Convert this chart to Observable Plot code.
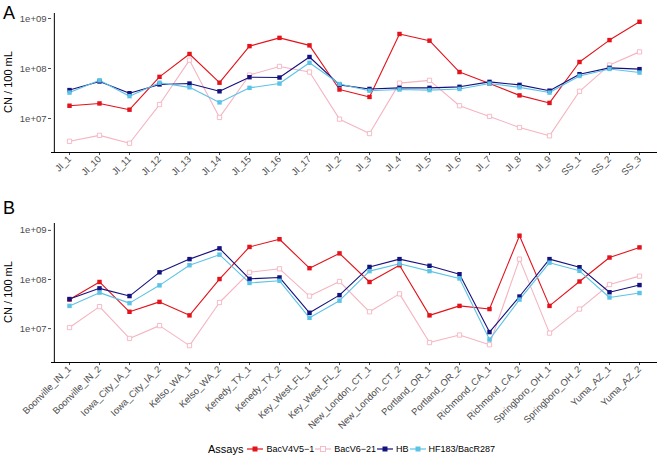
<!DOCTYPE html>
<html><head><meta charset="utf-8">
<script src="https://cdn.jsdelivr.net/npm/d3@7"></script>
<script src="https://cdn.jsdelivr.net/npm/@observablehq/plot@0.6"></script>
<style>
body{margin:0;background:#fff;font-family:"Liberation Sans",Arial,sans-serif;}
#wrap{position:relative;width:661px;height:465px;overflow:hidden;background:#fff;}
.panel{position:absolute;left:0;z-index:1;}
.tag{position:absolute;left:3px;font-size:18px;color:#000;line-height:1;z-index:2;}
.ylab{position:absolute;font-size:11px;color:#000;transform:translate(-50%,-50%) rotate(-90deg);white-space:nowrap;z-index:2;}
#legend{position:absolute;top:443px;left:208px;display:flex;align-items:center;font-size:9px;color:#000;z-index:2;}
#legend .ttl{font-size:11px;margin-right:3px;}
#legend .it{display:flex;align-items:center;}
#legend svg{margin:0 3px 0 1px;}
</style></head>
<body>
<div id="wrap">
  <div class="tag" style="top:4px;">A</div>
  <div class="tag" style="top:199px;">B</div>
  <div class="ylab" style="left:8px;top:82px;">CN / 100 mL</div>
  <div class="ylab" style="left:8px;top:292px;">CN / 100 mL</div>
  <div id="pA" class="panel" style="top:0px;"></div>
  <div id="pB" class="panel" style="top:210px;"></div>
  <div id="legend"></div>
</div>
<script>
const assays = ["BacV4V5\u22121", "BacV6\u221221", "HB", "HF183/BacR287"];
const colors = ["#E4121B", "#F5B4C1", "#14127E", "#5CC3E6"];

const sitesA = ["JI_1","JI_10","JI_11","JI_12","JI_13","JI_14","JI_15","JI_16","JI_17","JI_2","JI_3","JI_4","JI_5","JI_6","JI_7","JI_8","JI_9","SS_1","SS_2","SS_3"];
const a_BacV4V5 = [1.8e7,2.0e7,1.5e7,6.8e7,1.95e8,5.2e7,2.8e8,4.1e8,2.9e8,3.8e7,2.7e7,4.9e8,3.6e8,8.5e7,5.0e7,2.9e7,2.05e7,1.35e8,3.7e8,8.6e8];
const a_BacV6 = [3.5e6,4.6e6,3.2e6,1.9e7,1.47e8,1.05e7,7.4e7,1.1e8,8.5e7,9.7e6,5.0e6,5.1e7,5.8e7,1.8e7,1.1e7,6.6e6,4.5e6,3.5e7,1.17e8,2.15e8];
const a_HB = [3.7e7,5.5e7,3.2e7,4.8e7,5.0e7,3.5e7,6.7e7,6.6e7,1.7e8,4.7e7,3.9e7,4.1e7,4.1e7,4.3e7,5.4e7,4.7e7,3.6e7,7.7e7,1.03e8,9.7e7];
const a_HF183 = [3.3e7,5.8e7,2.8e7,5.2e7,4.2e7,2.1e7,4.1e7,5.0e7,1.3e8,4.9e7,3.6e7,3.8e7,3.7e7,3.9e7,5.0e7,4.2e7,3.3e7,7.1e7,9.8e7,8.3e7];

const sitesB = ["Boonville_IN_1","Boonville_IN_2","Iowa_City_IA_1","Iowa_City_IA_2","Kelso_WA_1","Kelso_WA_2","Kenedy_TX_1","Kenedy_TX_2","Key_West_FL_1","Key_West_FL_2","New_London_CT_1","New_London_CT_2","Portland_OR_1","Portland_OR_2","Richmond_CA_1","Richmond_CA_2","Springboro_OH_1","Springboro_OH_2","Yuma_AZ_1","Yuma_AZ_2"];
const b_BacV4V5 = [3.9e7,8.9e7,2.2e7,3.5e7,1.86e7,1.02e8,4.6e8,6.6e8,1.7e8,3.4e8,8.9e7,1.95e8,1.86e7,2.9e7,2.5e7,7.8e8,2.9e7,9.1e7,2.8e8,4.5e8];
const b_BacV6 = [1.05e7,2.8e7,6.3e6,1.15e7,4.5e6,3.4e7,1.4e8,1.65e8,4.6e7,9.1e7,2.2e7,5.1e7,5.2e6,7.4e6,4.7e6,2.6e8,8.1e6,2.5e7,7.9e7,1.17e8];
const b_HB = [4.0e7,6.6e7,4.6e7,1.4e8,2.6e8,4.3e8,1.03e8,1.1e8,2.1e7,4.8e7,1.8e8,2.6e8,1.9e8,1.28e8,8.5e6,4.5e7,2.6e8,1.78e8,5.5e7,7.7e7];
const b_HF183 = [2.9e7,5.4e7,3.3e7,7.6e7,1.95e8,3.2e8,8.5e7,9.4e7,1.66e7,3.7e7,1.48e8,2.1e8,1.48e8,1.05e8,6.0e6,3.9e7,2.2e8,1.5e8,4.3e7,5.3e7];

const yTicks = [1e7, 1e8, 1e9];

function table(sites, series) {
  const rows = [];
  series.forEach((vals, k) => vals.forEach((v, i) => rows.push({site: sites[i], assay: assays[k], value: v})));
  return rows;
}

function panel(sites, series, height, marginBottom, yDomain) {
  const data = table(sites, series);
  const fmt = d => d.toExponential().replace(/e\+(\d)$/, "e+0$1");
  const W = 661, mL = 51, mR = 4, mT = 13;
  const step = (W - mL - mR) / sites.length; // point-scale step (padding 0.5)
  return Plot.plot({
    width: W, height,
    marginLeft: mL, marginRight: mR, marginTop: mT, marginBottom,
    style: {fontFamily: "Liberation Sans, Arial, sans-serif", background: "transparent", overflow: "visible"},
    x: {type: "point", domain: sites, label: null},
    y: {type: "log", domain: yDomain, label: null},
    color: {domain: assays, range: colors},
    marks: [
      Plot.axisY({ticks: yTicks, tickFormat: fmt, tickSize: 3, tickPadding: 2, fontSize: 9.5, color: "#4d4d4d", label: null}),
      Plot.axisX({tickRotate: -45, tickSize: 3, tickPadding: 2, fontSize: 9.5, color: "#4d4d4d", label: null}),
      // axis lines (bottom and left edges of the panel)
      Plot.ruleY([yDomain[0]], {stroke: "#000", strokeWidth: 1}),
      Plot.ruleX([sites[0]], {y1: yDomain[0], y2: yDomain[1], dx: -step / 2, stroke: "#000", strokeWidth: 1}),
      Plot.line(data, {x: "site", y: "value", z: "assay", stroke: "assay", strokeWidth: 1.1}),
      Plot.dot(data.filter(d => d.assay === assays[1]), {x: "site", y: "value", symbol: "square", r: 2.4, stroke: "assay", fill: "white", strokeWidth: 0.9}),
      Plot.dot(data.filter(d => d.assay !== assays[1]), {x: "site", y: "value", symbol: "square", r: 2.5, fill: "assay", stroke: "none"})
    ]
  });
}

document.getElementById("pA").appendChild(panel(sitesA, [a_BacV4V5, a_BacV6, a_HB, a_HF183], 190, 38, [Math.pow(10, 6.32), Math.pow(10, 9.1)]));
document.getElementById("pB").appendChild(panel(sitesB, [b_BacV4V5, b_BacV6, b_HB, b_HF183], 220, 68, [Math.pow(10, 6.31), Math.pow(10, 9.14)]));

// legend
const lg = document.getElementById("legend");
const t = document.createElement("span"); t.className = "ttl"; t.textContent = "Assays"; lg.appendChild(t);
assays.forEach((a, k) => {
  const it = document.createElement("span"); it.className = "it";
  const open = k === 1;
  it.innerHTML = `<svg width="16" height="10"><line x1="0" x2="16" y1="5" y2="5" stroke="${colors[k]}" stroke-width="1.2"/>` +
    (open ? `<rect x="5.5" y="2.5" width="5" height="5" fill="white" stroke="${colors[k]}" stroke-width="0.9"/>`
          : `<rect x="5.5" y="2.5" width="5" height="5" fill="${colors[k]}"/>`) + `</svg>`;
  const s = document.createElement("span"); s.textContent = a;
  it.appendChild(s);
  lg.appendChild(it);
});
</script>
</body></html>
